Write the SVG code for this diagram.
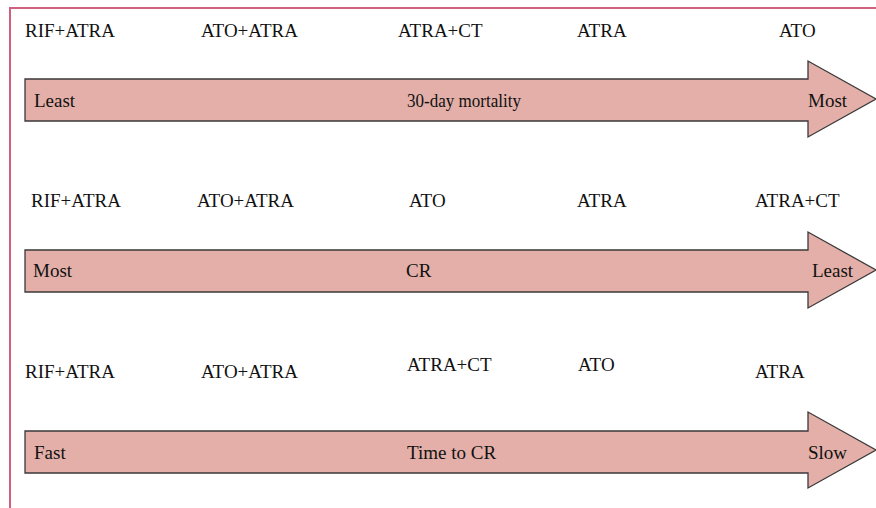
<svg xmlns="http://www.w3.org/2000/svg" width="876" height="508" viewBox="0 0 876 508">
<style>
.frame{fill:none;stroke:#D0607E;stroke-width:2}
.arrow{fill:#E3AFA8;stroke:#3a3a3a;stroke-width:1.3}
text{font-family:"Liberation Serif","Times New Roman",serif;font-size:19px;fill:#111}
</style>
<rect class="frame" x="10" y="8" width="880" height="520"/>
<g id="connectors">
<polygon class="arrow" points="25,79 808,79 808,61 876,99 808,137 808,121 25,121"/>
<polygon class="arrow" points="25,250 808,250 808,232 876,270 808,308 808,292 25,292"/>
<polygon class="arrow" points="25,431 808,431 808,412 876,450 808,488 808,473 25,473"/>
</g>
<g id="row1">
<text x="25" y="37">RIF+ATRA</text>
<text x="201" y="37">ATO+ATRA</text>
<text x="398" y="37">ATRA+CT</text>
<text x="577" y="37">ATRA</text>
<text x="779" y="37">ATO</text>
<text x="34" y="107">Least</text>
<text x="407" y="107" textLength="114" lengthAdjust="spacingAndGlyphs">30-day mortality</text>
<text x="808" y="107">Most</text>
</g>
<g id="row2">
<text x="31" y="207">RIF+ATRA</text>
<text x="197" y="207">ATO+ATRA</text>
<text x="409" y="207">ATO</text>
<text x="577" y="207">ATRA</text>
<text x="755" y="207">ATRA+CT</text>
<text x="33" y="277">Most</text>
<text x="406" y="277">CR</text>
<text x="812" y="277">Least</text>
</g>
<g id="row3">
<text x="25" y="378">RIF+ATRA</text>
<text x="201" y="378">ATO+ATRA</text>
<text x="407" y="371">ATRA+CT</text>
<text x="578" y="371">ATO</text>
<text x="755" y="378">ATRA</text>
<text x="34" y="459">Fast</text>
<text x="407" y="459">Time to CR</text>
<text x="808" y="459">Slow</text>
</g>
</svg>
